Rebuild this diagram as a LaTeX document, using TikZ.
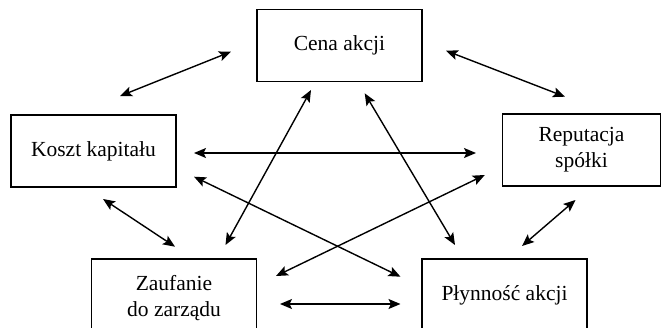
\documentclass[tikz,border=0pt]{standalone}
\usepackage{fontspec}
\setmainfont{Liberation Serif}
\usetikzlibrary{arrows.meta}
\begin{document}
\begin{tikzpicture}[x=1pt,y=-1pt,
  box/.style={draw,line width=1.3pt,minimum width=165pt,minimum height=72pt,inner sep=0pt,align=center,
    font=\fontsize{21.5}{26}\selectfont},
  link/.style={line width=1.4pt,{Stealth[length=12pt,width=10pt,inset=2.5pt]}-{Stealth[length=12pt,width=10pt,inset=2.5pt]}}]
\useasboundingbox (0,0) rectangle (661,327);
\node[box] (cena) at (339.5,45.5) {Cena akcji};
\node[box] (koszt) at (93.5,151) {Koszt kapitału};
\node[box,minimum width=158pt] (rep) at (581.5,150) {Reputacja\\spółki};
\node[box,minimum width=165pt,minimum height=78pt] (zauf) at (174,298) {Zaufanie\\do zarządu};
\node[box,minimum width=165pt] (plyn) at (504.5,295) {Płynność akcji};
% arrow endpoints
\coordinate (a1) at (231,51.7); \coordinate (b1) at (120,96);
\coordinate (a2) at (446,50.7); \coordinate (b2) at (565,96.7);
\coordinate (a3) at (194,153); \coordinate (b3) at (476,153);
\coordinate (a4) at (194,176.7); \coordinate (b4) at (400.5,276.7);
\coordinate (a5) at (484.8,175); \coordinate (b5) at (276,276);
\coordinate (a6) at (311,90); \coordinate (b6) at (225.5,245);
\coordinate (a7) at (364.7,93.3); \coordinate (b7) at (455,245);
\coordinate (a8) at (103,199); \coordinate (b8) at (175,246.7);
\coordinate (a9) at (575.5,200); \coordinate (b9) at (522,246);
\coordinate (a10) at (280,304); \coordinate (b10) at (400.5,304);
\foreach \i in {1,...,10} {\draw[link] (a\i) -- (b\i);}
\end{tikzpicture}
\end{document}
